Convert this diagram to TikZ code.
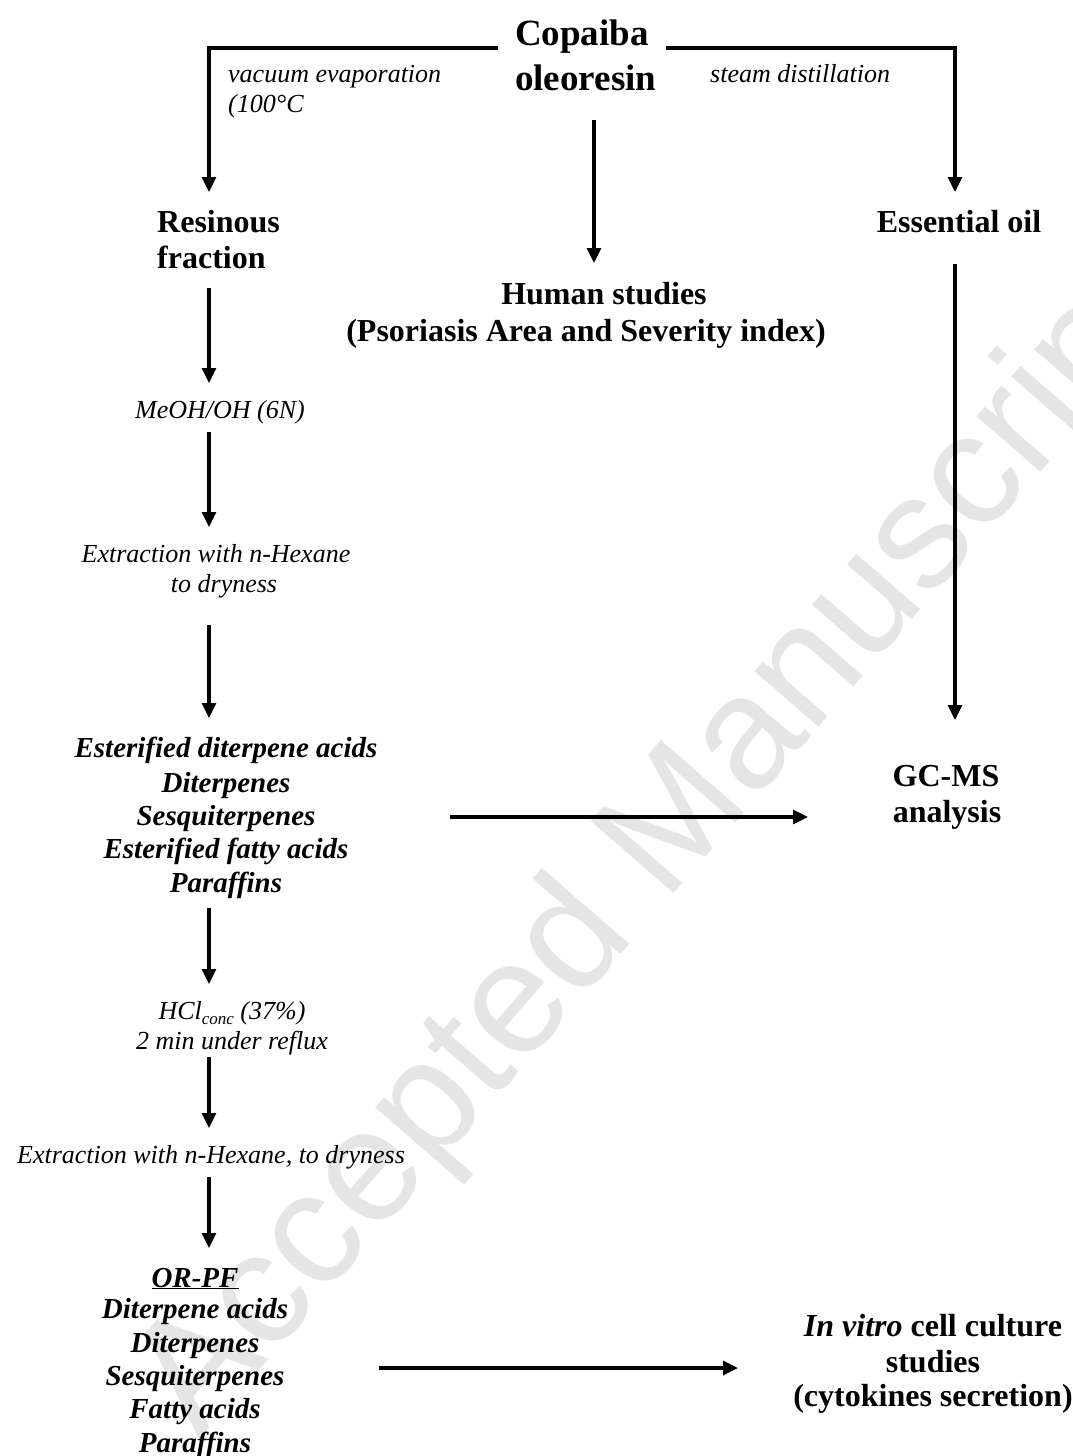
\documentclass[tikz,border=0pt]{standalone}
\usepackage{fontspec}
\setmainfont{Liberation Serif}
\setsansfont{Liberation Sans}
\usetikzlibrary{arrows.meta}
\tikzset{
  ln/.style={line width=3.2pt},
  arr/.style={line width=3.2pt,-{Triangle[length=15pt,width=14pt]}},
  cop/.style={inner sep=0pt,anchor=base west,font=\fontsize{37}{42}\selectfont\bfseries},
  bigb/.style={inner sep=0pt,anchor=base,font=\fontsize{32}{36}\selectfont\bfseries},
  lab/.style={inner sep=0pt,anchor=base,font=\fontsize{26}{30}\selectfont\itshape},
  lst/.style={inner sep=0pt,anchor=base,font=\fontsize{29}{33}\selectfont\bfseries\itshape},
  wmark/.style={inner sep=0pt,text=black!10,font=\fontsize{160}{165}\selectfont\sffamily}
}
\begin{document}
\begin{tikzpicture}[x=1pt,y=-1pt]
\useasboundingbox (0,0) rectangle (1073,1456);
\fill[white] (0,0) rectangle (1073,1456);
\begin{scope}
\clip (0,0) rectangle (1073,1456);
\node[wmark,rotate=49] (wm) at (658,849) {Accepted Manuscript};
\end{scope}

% top
\node[cop] (cop1) at (515,45) {Copaiba};
\node[cop] (cop2) at (515,90) {oleoresin};
\node[lab,anchor=base west] (vac1) at (228,82) {vacuum evaporation};
\node[lab,anchor=base west] (vac2) at (228,112) {(100°C};
\node[lab,anchor=base west] (steam) at (710,82) {steam distillation};

\node[bigb,anchor=base west] (res1) at (157,232) {Resinous};
\node[bigb,anchor=base west] (res2) at (157,268) {fraction};
\node[bigb] (ess) at (959,232) {Essential oil};
\node[bigb] (hum1) at (604,304) {Human studies};
\node[bigb] (hum2) at (586,341) {(Psoriasis Area and Severity index)};

\node[lab] (meoh) at (220,418) {MeOH/OH (6N)};
\node[lab] (ext1) at (216,562) {Extraction with n-Hexane};
\node[lab] (ext2) at (224,592) {to dryness};

\node[lst] (l1a) at (226,757) {Esterified diterpene acids};
\node[lst] (l1b) at (226,792) {Diterpenes};
\node[lst] (l1c) at (226,825) {Sesquiterpenes};
\node[lst] (l1d) at (226,858) {Esterified fatty acids};
\node[lst] (l1e) at (226,892) {Paraffins};

\node[bigb] (gc1) at (946,786) {GC-MS};
\node[bigb] (gc2) at (947,822) {analysis};

\node[lab] (hcl1) at (232,1019) {HCl\raisebox{-5pt}{\fontsize{17}{17}\selectfont conc} (37\%)};
\node[lab] (hcl2) at (232,1049) {2 min under reflux};
\node[lab] (ext3) at (211,1163) {Extraction with n-Hexane, to dryness};

\node[lst] (l2a) at (195,1287) {\underline{OR-PF}};
\node[lst] (l2b) at (195,1318) {Diterpene acids};
\node[lst] (l2c) at (195,1352) {Diterpenes};
\node[lst] (l2d) at (195,1385) {Sesquiterpenes};
\node[lst] (l2e) at (195,1418) {Fatty acids};
\node[lst] (l2f) at (195,1452) {Paraffins};

\node[bigb] (iv1) at (933,1336) {\textit{In vitro} cell culture};
\node[bigb] (iv2) at (933,1372) {studies};
\node[bigb] (iv3) at (933,1406) {(cytokines secretion)};

% connector coordinates
\coordinate (tl) at (498,48);
\coordinate (tlE) at (209,192);
\coordinate (tr) at (666,48);
\coordinate (trE) at (955,192);
\coordinate (cS) at (594,120);
\coordinate (cE) at (594,263);
\coordinate (eS) at (955,264);
\coordinate (eE) at (955,720);
\coordinate (a1S) at (209,288);
\coordinate (a1E) at (209,383);
\coordinate (a2S) at (209,432);
\coordinate (a2E) at (209,527);
\coordinate (a3S) at (209,625);
\coordinate (a3E) at (209,718);
\coordinate (a4S) at (209,908);
\coordinate (a4E) at (209,984);
\coordinate (a5S) at (209,1057);
\coordinate (a5E) at (209,1128);
\coordinate (a6S) at (209,1177);
\coordinate (a6E) at (209,1248);
\coordinate (h1S) at (450,817);
\coordinate (h1E) at (808,817);
\coordinate (h2S) at (379,1368);
\coordinate (h2E) at (738,1368);

\draw[arr] (tl) -| (tlE);
\draw[arr] (tr) -| (trE);
\draw[arr] (cS) -- (cE);
\draw[arr] (eS) -- (eE);
\draw[arr] (a1S) -- (a1E);
\draw[arr] (a2S) -- (a2E);
\draw[arr] (a3S) -- (a3E);
\draw[arr] (a4S) -- (a4E);
\draw[arr] (a5S) -- (a5E);
\draw[arr] (a6S) -- (a6E);
\draw[arr] (h1S) -- (h1E);
\draw[arr] (h2S) -- (h2E);
\end{tikzpicture}
\end{document}
